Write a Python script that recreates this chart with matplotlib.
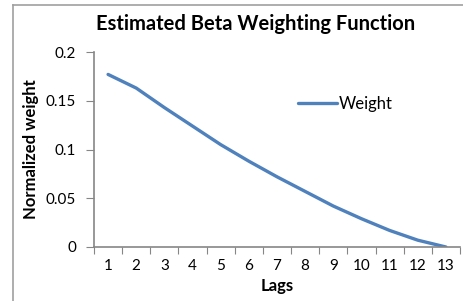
import matplotlib
matplotlib.use("Agg")
import matplotlib.pyplot as plt
from matplotlib.lines import Line2D

plt.rcParams['font.family'] = ['Lato', 'DejaVu Sans']

lags = list(range(1, 14))
tick_labels = [str(l) for l in lags]
weights = [0.177, 0.163, 0.143, 0.124, 0.105, 0.088, 0.072, 0.057, 0.042, 0.029, 0.017, 0.007, 0.000]
yticks = [0, 0.05, 0.1, 0.15, 0.2]
ytick_labels = ['0', '0.05', '0.1', '0.15', '0.2']

W, H = 464, 301
fig = plt.figure(figsize=(W / 100, H / 100), dpi=100)
ax = fig.add_axes([94 / W, 1 - 247 / H, (460 - 94) / W, (247 - 52) / H])

gray = '#868686'
ax.plot(lags, weights, color='#4F81BD', lw=2.4, solid_capstyle='round', label='Weight')
ax.set_xlim(0.5, 13.5)
ax.set_ylim(0, 0.2)

ax.set_xticks([l - 0.5 for l in lags] + [13.5])
ax.set_xticklabels([])
ax.set_xticks(lags, minor=True)
ax.set_xticklabels(tick_labels, minor=True, fontsize=11)
ax.tick_params(axis='x', which='minor', length=0, pad=9)
ax.tick_params(axis='x', which='major', length=5, color=gray, direction='out')
ax.set_yticks(yticks)
ax.set_yticklabels(ytick_labels, fontsize=11)
ax.tick_params(axis='y', length=6, color=gray, pad=7)

for s in ['top', 'right']:
    ax.spines[s].set_visible(False)
for s in ['left', 'bottom']:
    ax.spines[s].set_color(gray)
    ax.spines[s].set_linewidth(1.2)

ax.set_xlabel('Lags', fontsize=12, fontweight='bold', labelpad=3)
ax.set_ylabel('Normalized weight', fontsize=12, fontweight='bold', labelpad=5)
fig.text(256 / W, 1 - 24 / H, 'Estimated Beta Weighting Function', ha='center', va='center',
         fontsize=14.5, fontweight='bold')

leg = ax.legend(loc='center left', bbox_to_anchor=((290 - 94) / (460 - 94), (247 - 104) / (247 - 52)),
                frameon=False, fontsize=12, handlelength=2.3, handletextpad=0.1, borderpad=0)

fig.add_artist(Line2D([13 / W, 13 / W], [0, 1 - 5 / H], color='#A0A0A0', lw=1.2, transform=fig.transFigure))
fig.add_artist(Line2D([13 / W, 1], [1 - 5 / H, 1 - 5 / H], color='#A0A0A0', lw=1.2, transform=fig.transFigure))

fig.savefig('out.png', dpi=100)
